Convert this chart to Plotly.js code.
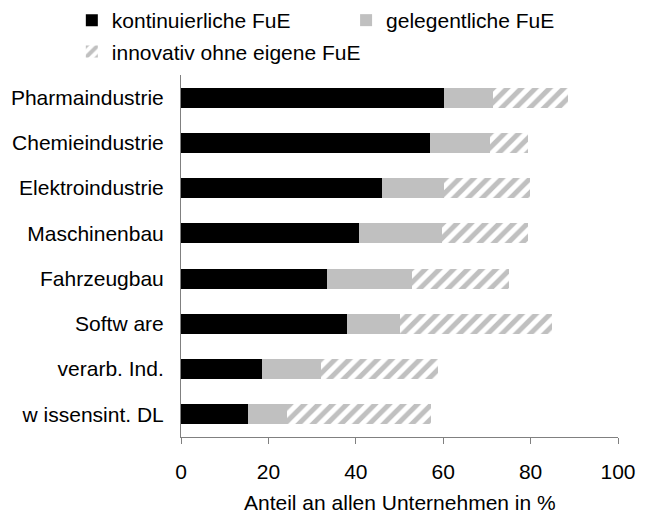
<!DOCTYPE html>
<html>
<head>
<meta charset="utf-8">
<script src="https://cdn.plot.ly/plotly-3.0.1.min.js"></script>
<style>html,body{margin:0;padding:0;background:#fff;}#chart{width:653px;height:513px;}</style>
</head>
<body>
<div id="chart"></div>
<script>
var categories = ["Pharmaindustrie", "Chemieindustrie", "Elektroindustrie", "Maschinenbau", "Fahrzeugbau", "Softw are", "verarb. Ind.", "w issensint. DL"];
var kontinuierlich = [60.1, 56.9, 46.0, 40.7, 33.4, 38.0, 18.5, 15.3];
var gelegentlich = [11.2, 13.9, 14.1, 19.0, 19.4, 12.1, 13.5, 9.0];
var ohneFuE = [17.3, 8.5, 19.7, 19.6, 22.3, 34.7, 26.9, 32.9];
var seriesNames = ["kontinuierliche FuE", "gelegentliche FuE", "innovativ ohne eigene FuE"];
var xTicks = [0, 20, 40, 60, 80, 100];
var xTitle = "Anteil an allen Unternehmen in %";

var font = {family: "Liberation Sans, Arial, sans-serif", size: 21, color: "#000"};

var traces = [
  {type: "bar", orientation: "h", name: seriesNames[0], y: categories, x: kontinuierlich,
   marker: {color: "#000000", line: {width: 0}}, legend: "legend"},
  {type: "bar", orientation: "h", name: seriesNames[1], y: categories, x: gelegentlich,
   marker: {color: "#c0c0c0", line: {width: 0}}, legend: "legend2"},
  {type: "bar", orientation: "h", name: seriesNames[2], y: categories, x: ohneFuE,
   marker: {color: "#ffffff", line: {width: 0},
            pattern: {shape: "/", fgcolor: "#c0c0c0", bgcolor: "#ffffff", size: 10, solidity: 0.5}},
   legend: "legend3"}
];

function leg(x, y) {
  return {orientation: "h", xref: "container", yref: "container", x: x, y: y, xanchor: "left", yanchor: "top",
          font: font, bgcolor: "rgba(0,0,0,0)", borderwidth: 0, traceorder: "normal"};
}

var layout = {
  width: 653, height: 513,
  margin: {l: 181, r: 35, t: 75, b: 76, pad: 0},
  paper_bgcolor: "#fff", plot_bgcolor: "#fff",
  font: font,
  barmode: "stack",
  bargap: 0.56,
  showlegend: true,
  legend: leg(0.11, 1.0),
  legend2: leg(0.53, 1.0),
  legend3: leg(0.11, 0.939),
  xaxis: {range: [0, 100], tickvals: xTicks, ticktext: xTicks.map(String), showgrid: false, zeroline: false,
          showline: true, linecolor: "#808080", linewidth: 1, ticks: "outside", ticklen: 6, tickcolor: "#808080",
          ticklabelstandoff: 10, tickfont: font},
  yaxis: {autorange: "reversed", showgrid: false, zeroline: false, showline: true, linecolor: "#808080", linewidth: 1,
          ticks: "", ticklabelstandoff: 12, tickfont: font, type: "category"},
  annotations: [{text: xTitle, xref: "paper", yref: "paper", x: 0.5, y: -0.181, xanchor: "center", yanchor: "middle",
                 showarrow: false, font: font}]
};

Plotly.newPlot("chart", traces, layout, {displayModeBar: false, staticPlot: true});
</script>
</body>
</html>
